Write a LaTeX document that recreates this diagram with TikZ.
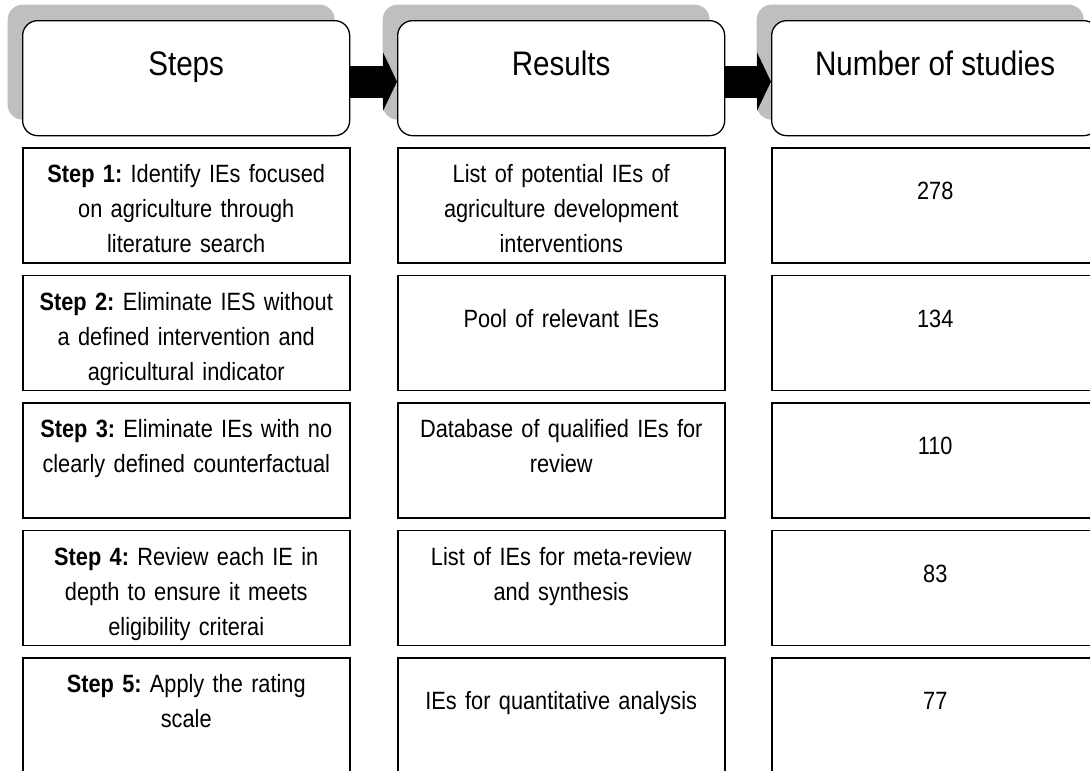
\documentclass[tikz,border=0pt]{standalone}
\usepackage{fontspec}
\setmainfont{Liberation Sans}[FakeStretch=0.87]
\usepackage{tikz}
\usetikzlibrary{arrows.meta}
\usetikzlibrary{shadows}
\definecolor{shade}{RGB}{191,191,191}
\frenchspacing
\tikzset{
    headbox/.style={draw=black, line width=1.3pt, fill=white, rounded corners=15pt,
        anchor=north west, minimum width=327pt, minimum height=115pt,
        text height=24pt, text depth=29pt, font=\fontsize{34}{40}\selectfont,
        general shadow={fill=shade, shadow xshift=-15pt, shadow yshift=16pt}},
    rowbox/.style={draw=black, line width=1.5pt, fill=white, anchor=north west,
        inner xsep=10pt, inner ysep=0pt, text width=307pt, align=center,
        text height=35pt, text depth=80pt, font=\fontsize{25}{35}\selectfont},
    midrow/.style={rowbox, text height=52pt, text depth=63pt},
    lastrow/.style={text depth=110pt},
    blockarrow/.style={line width=32pt, -{Triangle[length=14pt, width=58pt]}},
}

\begin{document}
\begin{tikzpicture}[x=1pt, y=-1pt]
\useasboundingbox (0,0) rectangle (1090,771);

\node[headbox] (hsteps) at (22,20) {Steps};
\node[headbox] (hresults) at (397,20) {Results};
\node[headbox] (hnumber) at (771,20) {Number of studies};

\draw[blockarrow] ([yshift=-3.5pt]hsteps.east) -- ([yshift=-3.5pt]hresults.west);
\draw[blockarrow] ([yshift=-3.5pt]hresults.east) -- ([yshift=-3.5pt]hnumber.west);

\node[rowbox] (s1) at (22,147) {\textbf{Step 1:} Identify IEs focused\\ on agriculture through\\ literature search};
\node[rowbox] (s2) at (22,274.5) {\textbf{Step 2:} Eliminate IES without\\ a defined intervention and\\ agricultural indicator};
\node[rowbox] (s3) at (22,402) {\textbf{Step 3:} Eliminate IEs with no\\ clearly defined counterfactual};
\node[rowbox] (s4) at (22,529.5) {\textbf{Step 4:} Review each IE in\\ depth to ensure it meets\\ eligibility criterai};
\node[rowbox, lastrow] (s5) at (22,657) {\textbf{Step 5:} Apply the rating\\ scale};

\node[rowbox] (r1) at (397,147) {List of potential IEs of\\ agriculture development\\ interventions};
\node[midrow] (r2) at (397,274.5) {Pool of relevant IEs};
\node[rowbox] (r3) at (397,402) {Database of qualified IEs for\\ review};
\node[rowbox] (r4) at (397,529.5) {List of IEs for meta-review\\ and synthesis};
\node[midrow, lastrow] (r5) at (397,657) {IEs for quantitative analysis};

\node[midrow] (n1) at (771,147) {278};
\node[midrow] (n2) at (771,274.5) {134};
\node[midrow] (n3) at (771,402) {110};
\node[midrow] (n4) at (771,529.5) {83};
\node[midrow, lastrow] (n5) at (771,657) {77};

\end{tikzpicture}
\end{document}
